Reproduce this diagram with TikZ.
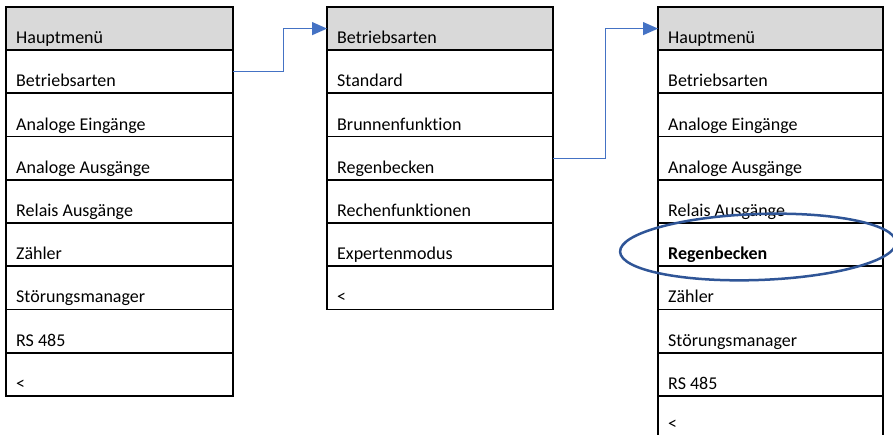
\documentclass[tikz,border=0pt]{standalone}
\usepackage{fontspec}
\setmainfont{Carlito}[Ligatures=CommonOff]
\usetikzlibrary{arrows.meta,calc}
\definecolor{hdr}{HTML}{D9D9D9}
\definecolor{arr}{HTML}{4472C4}
\definecolor{ellc}{HTML}{2F5597}
\begin{document}
\begin{tikzpicture}[x=1pt,y=-1pt,
  cell/.style={draw=black,line width=1.8pt,minimum height=43.2pt,inner sep=0pt,outer sep=0pt,anchor=north west},
  txt/.style={anchor=base west,inner sep=0pt,font=\fontsize{18}{20}\selectfont},
  conn/.style={draw=arr,line width=1.3pt,-{Triangle[length=15pt,width=13pt,fill=arr]}}]
\useasboundingbox (0,0) rectangle (893,435);
\clip (0,0) rectangle (893,435);
% table 1
\foreach \lbl [count=\i from 0] in {Hauptmenü,Betriebsarten,Analoge Eingänge,Analoge Ausgänge,Relais Ausgänge,Zähler,Störungsmanager,RS 485,<}{
  \pgfmathsetmacro\yt{7+43.2*\i}
  \ifnum\i=0 \def\fc{hdr}\else\def\fc{white}\fi
  \node[cell,fill=\fc,minimum width=227pt] (a\i) at (6,\yt) {};
  \node[txt] (at\i) at ($(a\i.south west)+(10,-6.5)$) {\lbl};
}
% table 2
\foreach \lbl [count=\i from 0] in {Betriebsarten,Standard,Brunnenfunktion,Regenbecken,Rechenfunktionen,Expertenmodus,<}{
  \pgfmathsetmacro\yt{7+43.2*\i}
  \ifnum\i=0 \def\fc{hdr}\else\def\fc{white}\fi
  \node[cell,fill=\fc,minimum width=226pt] (b\i) at (327,\yt) {};
  \node[txt] (bt\i) at ($(b\i.south west)+(10,-6.5)$) {\lbl};
}
% table 3
\foreach \lbl [count=\i from 0] in {Hauptmenü,Betriebsarten,Analoge Eingänge,Analoge Ausgänge,Relais Ausgänge,\textbf{Regenbecken},Zähler,Störungsmanager,RS 485}{
  \pgfmathsetmacro\yt{7+43.2*\i}
  \ifnum\i=0 \def\fc{hdr}\else\def\fc{white}\fi
  \node[cell,fill=\fc,minimum width=225pt] (c\i) at (658,\yt) {};
  \node[txt] (ct\i) at ($(c\i.south west)+(10,-6.5)$) {\lbl};
}
\node[cell,minimum width=225pt] (c9) at (658,395.8) {};
\node[txt] (ct9) at ($(c9.south west)+(10,-10)$) {<};
% connectors
\draw[conn] (a1.east) -- ++(50.5,0) |- (b0.west);
\draw[conn] (b3.east) -- ++(52.5,0) |- (c0.west);
% highlight ellipse
\draw[ellc,line width=2.5pt,rotate around={2:(758,247)}] (758,247) ellipse [x radius=138, y radius=33];
\end{tikzpicture}
\end{document}
